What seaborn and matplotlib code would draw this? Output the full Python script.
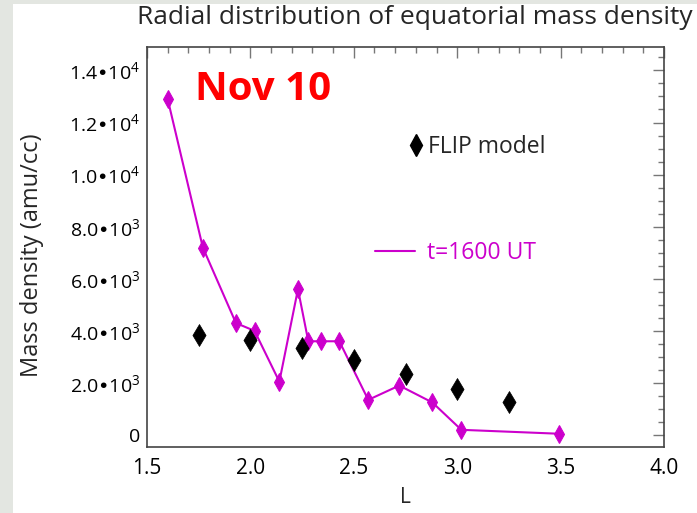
import matplotlib
matplotlib.use("Agg")
import matplotlib.pyplot as plt
import pandas as pd
import seaborn as sns
from matplotlib.patches import Rectangle
from matplotlib.lines import Line2D
from matplotlib.ticker import FixedLocator, MultipleLocator

# Simulated equatorial mass density at t=1600 UT
L_model = [1.6, 1.77, 1.93, 2.02, 2.14, 2.23, 2.28, 2.34, 2.43, 2.57, 2.72, 2.88, 3.02, 3.49]
dens_model = [12900, 7200, 4300, 4000, 2050, 5600, 3600, 3600, 3600, 1350, 1900, 1250, 200, 50]

# FLIP model values
L_flip = [1.75, 2.0, 2.25, 2.5, 2.75, 3.0, 3.25]
dens_flip = [3850, 3650, 3350, 2900, 2350, 1750, 1250]

x_ticks = [1.5, 2.0, 2.5, 3.0, 3.5, 4.0]
x_tick_labels = ["1.5", "2.0", "2.5", "3.0", "3.5", "4.0"]
y_ticks = [0, 2000, 4000, 6000, 8000, 10000, 12000, 14000]
y_tick_labels = ["0", "2.0•10$^3$", "4.0•10$^3$", "6.0•10$^3$", "8.0•10$^3$",
                 "1.0•10$^4$", "1.2•10$^4$", "1.4•10$^4$"]

MAGENTA = "#cc00cc"

sns.set_style("white")
plt.rcParams["font.family"] = ["Open Sans", "DejaVu Sans"]
plt.rcParams["mathtext.default"] = "regular"

fig = plt.figure(figsize=(6.97, 5.13), dpi=100)
fig.patch.set_facecolor("white")
# light grey slide margin
fig.patches.append(Rectangle((0, 0), 13 / 697, 1, transform=fig.transFigure,
                             facecolor="#e3e6e1", edgecolor="none", zorder=-5))
fig.patches.append(Rectangle((0, 1 - 4 / 513), 1, 4 / 513, transform=fig.transFigure,
                             facecolor="#e3e6e1", edgecolor="none", zorder=-5))

ax = fig.add_axes([147 / 697, 1 - 447 / 513, 517 / 697, 400 / 513])

df_model = pd.DataFrame({"L": L_model, "density": dens_model})
df_flip = pd.DataFrame({"L": L_flip, "density": dens_flip})

sns.lineplot(data=df_model, x="L", y="density", ax=ax, color=MAGENTA, lw=1.5,
             marker="d", markersize=9, markeredgecolor=MAGENTA, sort=False, zorder=3)
sns.scatterplot(data=df_flip, x="L", y="density", ax=ax, color="black",
                marker="d", s=125, edgecolor="black", linewidth=0.5, zorder=4)

ax.set_xlim(1.5, 4.0)
ax.set_ylim(-460, 14900)

ax.xaxis.set_major_locator(FixedLocator(x_ticks))
ax.set_xticklabels(x_tick_labels)
ax.xaxis.set_minor_locator(MultipleLocator(0.1))
ax.yaxis.set_major_locator(FixedLocator(y_ticks))
ax.set_yticklabels(y_tick_labels)
ax.yaxis.set_minor_locator(MultipleLocator(500))

ax.tick_params(which="both", direction="in", top=True, right=True, color="#777777", width=1)
ax.tick_params(which="major", length=8)
ax.tick_params(which="minor", length=4.5)
ax.tick_params(axis="x", which="major", labelsize=15, pad=8, labelcolor="black")
ax.tick_params(axis="y", which="major", labelsize=14, pad=5, labelcolor="black")

for sp in ax.spines.values():
    sp.set_color("#444444")
    sp.set_linewidth(1.2)

ax.set_xlabel("L", fontsize=15)
ax.set_ylabel("Mass density (amu/cc)", fontsize=17)
ax.xaxis.set_label_coords(0.5, -0.1)
ax.yaxis.set_label_coords(-0.2, 0.48)

fig.text(693 / 697, 1 - 18 / 513, "Radial distribution of equatorial mass density",
         ha="right", va="center", fontsize=19)

ax.text((263 - 147) / 517, (447 - 90) / 400, "Nov 10", transform=ax.transAxes,
        ha="center", va="center", fontsize=29, fontweight="bold", color="red")

flip_handle = Line2D([], [], ls="none", marker="d", markersize=11, color="black")
leg1 = ax.legend([flip_handle], ["FLIP model"], loc="center left",
                 bbox_to_anchor=((411 - 147) / 517, (447 - 147) / 400),
                 frameon=False, fontsize=16.5, handlelength=0.45, handletextpad=0.3,
                 borderpad=0, borderaxespad=0)
ax.add_artist(leg1)

model_handle = Line2D([], [], color=MAGENTA, lw=1.5)
leg2 = ax.legend([model_handle], ["t=1600 UT"], loc="center left",
                 bbox_to_anchor=((375 - 147) / 517, (447 - 253) / 400),
                 frameon=False, fontsize=16.5, handlelength=1.75, handletextpad=0.5,
                 borderpad=0, borderaxespad=0, labelcolor=MAGENTA)

fig.savefig("out.png", dpi=100)
